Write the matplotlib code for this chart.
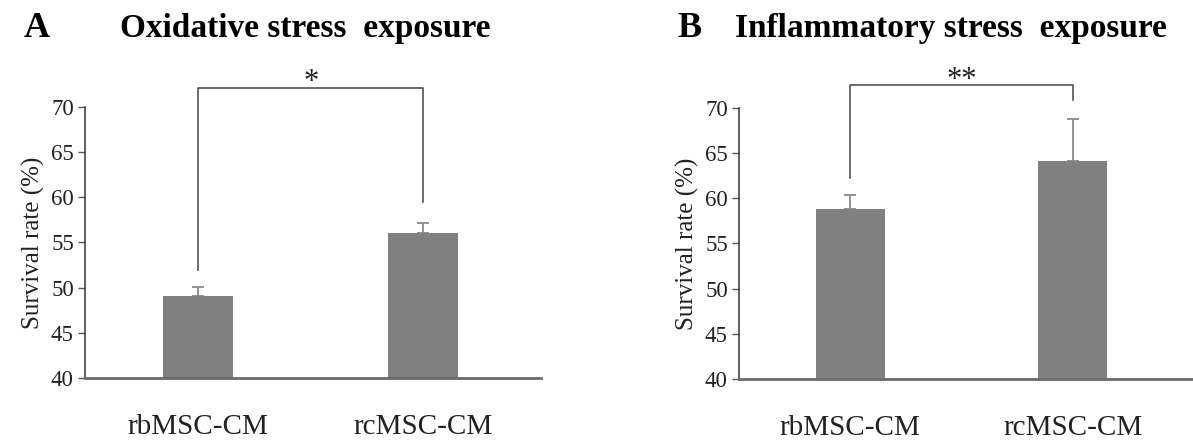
import numpy as np
import matplotlib
matplotlib.use("Agg")
import matplotlib.pyplot as plt

plt.rcParams['font.family'] = ['Liberation Serif', 'DejaVu Serif']

groups = ["rbMSC-CM", "rcMSC-CM"]

# panel A: oxidative stress
ox_mean = [49.1, 56.1]
ox_err = [1.0, 1.1]
# panel B: inflammatory stress
inf_mean = [58.8, 64.1]
inf_err = [1.5, 4.6]

panels = [
    dict(letter="A", title="Oxidative stress  exposure", mean=ox_mean, err=ox_err,
         rect=[0.0712, 0.1506, 0.3822, 0.609], xlim=(-0.504, 1.523),
         br_y=72.1, legs=(52.0, 59.5), star="*", star_y=72.7,
         letter_x=0.031, title_x=0.256),
    dict(letter="B", title="Inflammatory stress  exposure", mean=inf_mean, err=inf_err,
         rect=[0.6194, 0.1483, 0.3797, 0.6097], xlim=(-0.50, 1.535),
         br_y=72.5, legs=(62.2, 70.9), star="**", star_y=73.0,
         letter_x=0.578, title_x=0.797),
]

fig = plt.figure(figsize=(11.93, 4.45), dpi=100)

for p in panels:
    ax = fig.add_axes(p["rect"])
    x = np.arange(len(groups))
    ax.bar(x, p["mean"], width=0.31, color="#808080", zorder=2)
    ax.errorbar(x, p["mean"], yerr=[np.zeros(2), p["err"]], fmt="none",
                ecolor="#8a8a8a", elinewidth=1.3, capsize=4, capthick=1.3, zorder=1)
    ax.set_ylim(40, 70)
    ax.set_xlim(*p["xlim"])
    ax.set_yticks(np.arange(40, 71, 5))
    ax.set_xticks(x)
    ax.set_xticklabels(groups, fontsize=21)
    ax.tick_params(axis="x", length=0, pad=26, colors="#222222")
    ax.tick_params(axis="y", length=5, width=1, labelsize=16.5, colors="#222222", pad=3)
    ax.tick_params(axis="y", color="#555555")
    for s in ["top", "right"]:
        ax.spines[s].set_visible(False)
    ax.spines["left"].set_color("#444444")
    ax.spines["left"].set_linewidth(1.2)
    ax.spines["bottom"].set_color("#6a6a6a")
    ax.spines["bottom"].set_linewidth(2)
    ax.set_ylabel("Survival rate (%)", fontsize=18, color="#222222", labelpad=4)
    # significance bracket
    ax.plot([0, 0, 1, 1], [p["legs"][0], p["br_y"], p["br_y"], p["legs"][1]],
            color="#444444", lw=1.1, clip_on=False)
    ax.text(0.5, p["star_y"], p["star"], ha="center", va="center", fontsize=22,
            color="#222222", clip_on=False)
    fig.text(p["letter_x"], 0.935, p["letter"], fontsize=26, fontweight="bold",
             ha="center", va="center")
    fig.text(p["title_x"], 0.935, p["title"], fontsize=24, fontweight="bold",
             ha="center", va="center")

fig.savefig("out.png", dpi=100)
